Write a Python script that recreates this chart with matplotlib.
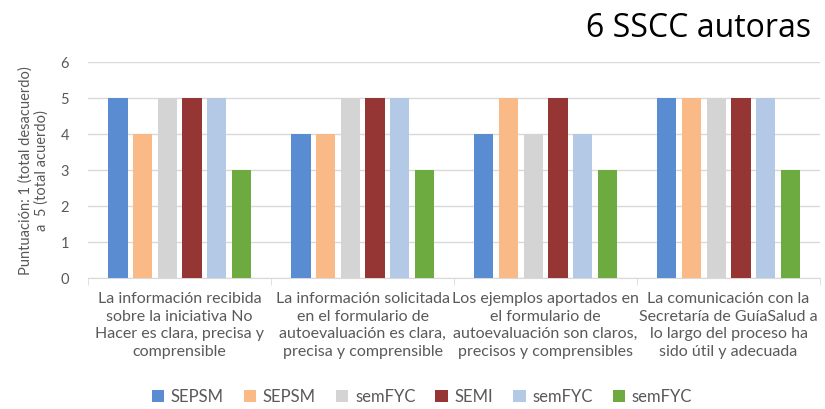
import numpy as np
import matplotlib.pyplot as plt

plt.rcParams['font.family'] = ['Lato', 'DejaVu Sans']

categories = [
    "La información recibida\nsobre la iniciativa No\nHacer es clara, precisa y\ncomprensible",
    "La información solicitada\nen el formulario de\nautoevaluación es clara,\nprecisa y comprensible",
    "Los ejemplos aportados en\nel formulario de\nautoevaluación son claros,\nprecisos y comprensibles",
    "La comunicación con la\nSecretaría de GuíaSalud a\nlo largo del proceso ha\nsido útil y adecuada",
]
series_names = ["SEPSM", "SEPSM", "semFYC", "SEMI", "semFYC", "semFYC"]
values = [
    [5, 4, 4, 5],
    [4, 4, 5, 5],
    [5, 5, 4, 5],
    [5, 5, 5, 5],
    [5, 5, 4, 5],
    [3, 3, 3, 3],
]
colors = ["#5A8CD2", "#F9BA87", "#D4D4D4", "#963634", "#B4C9E5", "#6DAA3F"]

text_col = "#595959"
grid_col = "#D9D9D9"

fig = plt.figure(figsize=(8.25, 4.09), dpi=100)
ax = fig.add_axes([0.107, 0.320, 0.887, 0.528])

x = np.arange(len(categories))
pitch = 0.135
width = 0.105
for i, (name, vals, c) in enumerate(zip(series_names, values, colors)):
    ax.bar(x + (i - 2.5) * pitch, vals, width=width, color=c, label=name, zorder=3)

ax.set_xlim(-0.5, len(categories) - 0.5)
ax.set_ylim(0, 6)
ax.set_yticks(range(7))
ax.yaxis.grid(True, color=grid_col, linewidth=1, zorder=0)
ax.tick_params(axis='y', length=0, labelsize=10.5, labelcolor=text_col, pad=14)

ax.set_xticks(x)
ax.set_xticklabels(categories, fontsize=11.5, color=text_col, linespacing=1.32)
ax.tick_params(axis='x', length=0, pad=10)
ax.set_xticks(np.arange(len(categories) + 1) - 0.5, minor=True)
ax.tick_params(axis='x', which='minor', length=5, color=grid_col)

for s in ['top', 'right', 'left']:
    ax.spines[s].set_visible(False)
ax.spines['bottom'].set_color(grid_col)

ax.set_ylabel("Puntuación: 1 (total desacuerdo)\na  5 (total acuerdo)",
              fontsize=10.5, color=text_col, labelpad=8, linespacing=1.2)

fig.text(0.983, 0.93, "6 SSCC autoras", fontsize=23, ha='right', va='center',
         family=['Open Sans', 'DejaVu Sans'])

ax.legend(loc='center', bbox_to_anchor=(0.456, -0.55), ncol=6, frameon=False,
          fontsize=12, labelcolor=text_col, handlelength=0.75, handleheight=0.75,
          columnspacing=1.2, handletextpad=0.4)

fig.savefig("out.png", dpi=100)
